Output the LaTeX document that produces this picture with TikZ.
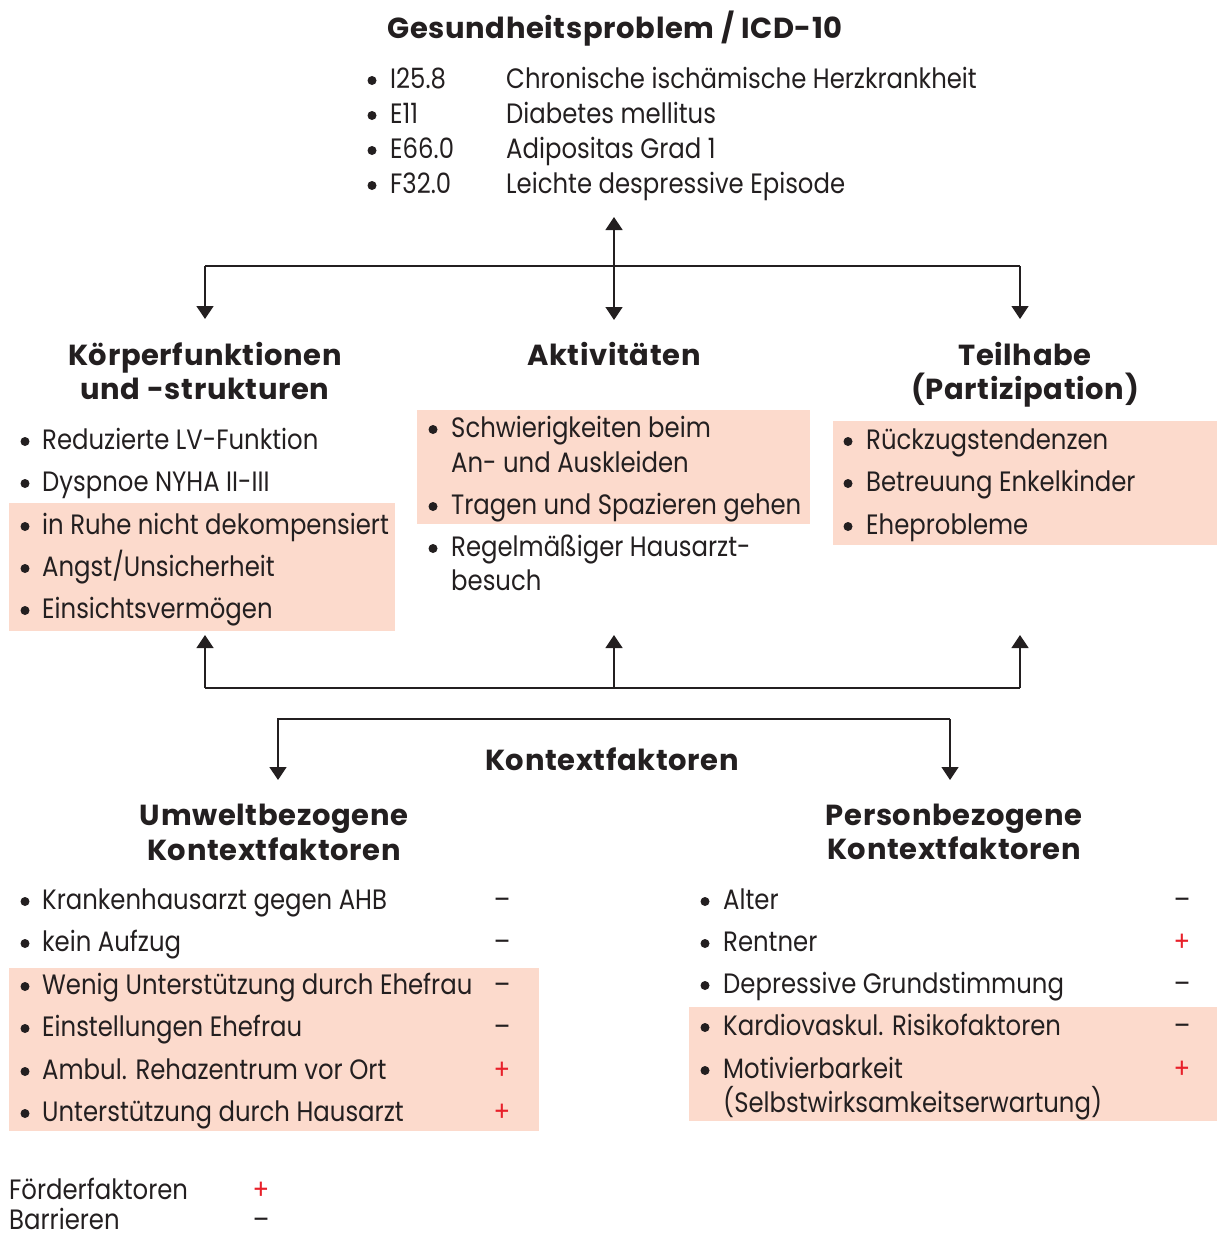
\documentclass[tikz,border=0pt]{standalone}
\usepackage{fontspec}
\setmainfont[FakeStretch=0.87]{Poppins}
\newfontfamily\hdfont[LetterSpace=2.2]{Poppins}
\usetikzlibrary{arrows.meta}
\definecolor{shade}{RGB}{252,218,204}
\definecolor{plusred}{RGB}{232,32,42}
\definecolor{ink}{RGB}{35,31,32}
\begin{document}
\begin{tikzpicture}[x=1pt,y=-1pt,
  txt/.style={anchor=base west, inner sep=0pt, text=ink, font=\fontsize{28}{28}\selectfont},
  bul/.style={circle, fill=ink, draw=none, minimum size=9pt, inner sep=0pt, yshift=7.5pt},
  hd/.style={anchor=base, inner sep=0pt, text=ink, font=\hdfont\fontsize{29}{29}\selectfont\bfseries},
  sgn/.style={anchor=base, inner sep=0pt, text=ink, font=\fontsize{28}{28}\selectfont},
  pls/.style={anchor=base, inner sep=0pt, text=plusred, font=\fontsize{28}{28}\selectfont},
  shadebox/.style={fill=shade, draw=none, anchor=north west, inner sep=0pt},
  conn/.style={draw=ink, line width=1.4pt},
  tip/.style={-{Triangle[width=17pt,length=13pt]}}
]
\useasboundingbox (0,0) rectangle (1217,1237);

% shaded areas
\node[shadebox, minimum width=386pt, minimum height=128pt] (shL) at (9,503) {};
\node[shadebox, minimum width=393pt, minimum height=114pt] (shM) at (417,410) {};
\node[shadebox, minimum width=384pt, minimum height=124pt] (shR) at (833,421) {};
\node[shadebox, minimum width=530pt, minimum height=163pt] (shU) at (9,968) {};
\node[shadebox, minimum width=528pt, minimum height=114pt] (shP) at (689,1007) {};

% top
\node[hd] (title) at (615,38) {Gesundheitsproblem / ICD-10};
\node[bul] (b1) at (372,88) {}; \node[txt] (c1) at (390,88) {I25.8}; \node[txt] (d1) at (506,88) {Chronische ischämische Herzkrankheit};
\node[bul] (b2) at (372,123) {}; \node[txt] (c2) at (390,123) {E11}; \node[txt] (d2) at (506,123) {Diabetes mellitus};
\node[bul] (b3) at (372,158) {}; \node[txt] (c3) at (390,158) {E66.0}; \node[txt] (d3) at (506,158) {Adipositas Grad 1};
\node[bul] (b4) at (372,193) {}; \node[txt] (c4) at (390,193) {F32.0}; \node[txt] (d4) at (506,193) {Leichte despressive Episode};

% headings
\node[hd] (hK1) at (205,365) {Körperfunktionen};
\node[hd] (hK2) at (205,399) {und -strukturen};
\node[hd] (hA) at (614,365) {Aktivitäten};
\node[hd] (hT1) at (1025,365) {Teilhabe};
\node[hd] (hT2) at (1025,399) {(Partizipation)};

% left list
\node[bul] (lb1) at (25,449) {}; \node[txt] (l1) at (42,449) {Reduzierte LV-Funktion};
\node[bul] (lb2) at (25,491) {}; \node[txt] (l2) at (42,491) {Dyspnoe NYHA II-III};
\node[bul] (lb3) at (25,534) {}; \node[txt] (l3) at (42,534) {in Ruhe nicht dekompensiert};
\node[bul] (lb4) at (25,576) {}; \node[txt] (l4) at (42,576) {Angst/Unsicherheit};
\node[bul] (lb5) at (25,618) {}; \node[txt] (l5) at (42,618) {Einsichtsvermögen};

% middle list
\node[bul] (mb1) at (433,437) {}; \node[txt] (m1) at (451,437) {Schwierigkeiten beim};
\node[txt] (m1b) at (451,472) {An- und Auskleiden};
\node[bul] (mb2) at (433,514) {}; \node[txt] (m2) at (451,514) {Tragen und Spazieren gehen};
\node[bul] (mb3) at (433,556) {}; \node[txt] (m3) at (451,556) {Regelmäßiger Hausarzt-};
\node[txt] (m3b) at (451,590) {besuch};

% right list
\node[bul] (rb1) at (848,449) {}; \node[txt] (r1) at (866,449) {Rückzugstendenzen};
\node[bul] (rb2) at (848,491) {}; \node[txt] (r2) at (866,491) {Betreuung Enkelkinder};
\node[bul] (rb3) at (848,534) {}; \node[txt] (r3) at (866,534) {Eheprobleme};

% context
\node[hd] (kf) at (612,770) {Kontextfaktoren};
\node[hd] (hU1) at (274,825) {Umweltbezogene};
\node[hd] (hU2) at (274,860) {Kontextfaktoren};
\node[hd] (hP1) at (954,825) {Personbezogene};
\node[hd] (hP2) at (954,859) {Kontextfaktoren};

% environment list
\node[bul] (ub1) at (25,909) {}; \node[txt] (u1) at (42,909) {Krankenhausarzt gegen AHB}; \node[sgn] (us1) at (502,909) {–};
\node[bul] (ub2) at (25,951) {}; \node[txt] (u2) at (42,951) {kein Aufzug}; \node[sgn] (us2) at (502,951) {–};
\node[bul] (ub3) at (25,994) {}; \node[txt] (u3) at (42,994) {Wenig Unterstützung durch Ehefrau}; \node[sgn] (us3) at (502,994) {–};
\node[bul] (ub4) at (25,1036) {}; \node[txt] (u4) at (42,1036) {Einstellungen Ehefrau}; \node[sgn] (us4) at (502,1036) {–};
\node[bul] (ub5) at (25,1079) {}; \node[txt] (u5) at (42,1079) {Ambul. Rehazentrum vor Ort}; \node[pls] (us5) at (502,1079) {+};
\node[bul] (ub6) at (25,1121) {}; \node[txt] (u6) at (42,1121) {Unterstützung durch Hausarzt}; \node[pls] (us6) at (502,1121) {+};

% person list
\node[bul] (pb1) at (705,909) {}; \node[txt] (p1) at (723,909) {Alter}; \node[sgn] (ps1) at (1182,909) {–};
\node[bul] (pb2) at (705,951) {}; \node[txt] (p2) at (723,951) {Rentner}; \node[pls] (ps2) at (1182,951) {+};
\node[bul] (pb3) at (705,993) {}; \node[txt] (p3) at (723,993) {Depressive Grundstimmung}; \node[sgn] (ps3) at (1182,993) {–};
\node[bul] (pb4) at (705,1035) {}; \node[txt] (p4) at (723,1035) {Kardiovaskul. Risikofaktoren}; \node[sgn] (ps4) at (1182,1035) {–};
\node[bul] (pb5) at (705,1078) {}; \node[txt] (p5) at (723,1078) {Motivierbarkeit}; \node[pls] (ps5) at (1182,1078) {+};
\node[txt] (p5b) at (723,1112) {(Selbstwirksamkeitserwartung)};

% legend
\node[txt] (lg1) at (9,1199) {Förderfaktoren}; \node[pls] (lgs1) at (261,1199) {+};
\node[txt] (lg2) at (9,1229) {Barrieren}; \node[sgn] (lgs2) at (261,1229) {–};

% connector coordinates
\coordinate (t0) at (614,217);
\coordinate (t1) at (614,320);
\coordinate (hl) at (205,266);
\coordinate (hr) at (1020,266);
\coordinate (al) at (205,319);
\coordinate (ar) at (1020,319);
\coordinate (ua) at (205,635);
\coordinate (um) at (614,635);
\coordinate (ur) at (1020,635);
\coordinate (jl) at (205,688);
\coordinate (jm) at (614,688);
\coordinate (jr) at (1020,688);
\coordinate (kl) at (278,719);
\coordinate (kr) at (950,719);
\coordinate (kdl) at (278,780);
\coordinate (kdr) at (950,780);

\draw[conn, {Triangle[width=17pt,length=13pt]}-{Triangle[width=17pt,length=13pt]}] (t0) -- (t1);
\draw[conn, tip] (hr) -- (ar);
\draw[conn, tip] (hl) -- (al);
\draw[conn] (hl) -- (hr);
\draw[conn, tip] (jl) -- (ua);
\draw[conn, tip] (jm) -- (um);
\draw[conn, tip] (jr) -- (ur);
\draw[conn] (jl) -- (jr);
\draw[conn, tip] (kr) -- (kdr);
\draw[conn, tip] (kr) -- (kl) -- (kdl);
\end{tikzpicture}
\end{document}
